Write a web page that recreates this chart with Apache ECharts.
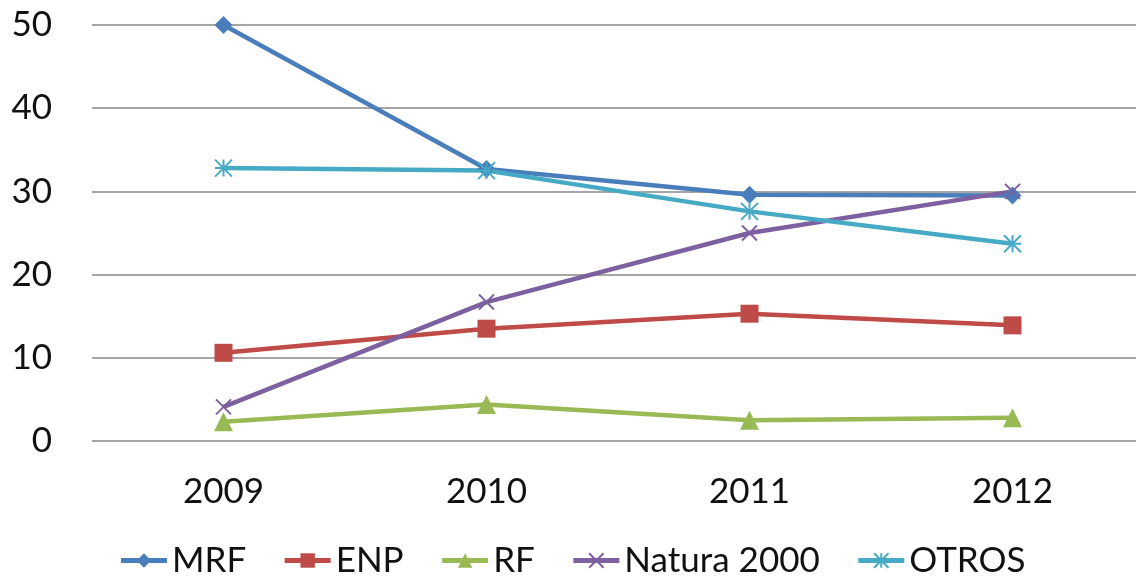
<!DOCTYPE html>
<html>
<head>
<meta charset="utf-8">
<script src="https://cdn.jsdelivr.net/npm/echarts@6/dist/echarts.min.js"></script>
<style>
    html, body { margin: 0; padding: 0; background: #fff; overflow: hidden; }
    #chart { width: 1144px; height: 585px; }
</style>
</head>
<body>
<div id="chart"></div>
<script>
const years = ['2009', '2010', '2011', '2012'];
const mrf = [50.0, 32.7, 29.6, 29.5];
const enp = [10.6, 13.5, 15.3, 13.9];
const rf = [2.3, 4.4, 2.5, 2.8];
const natura = [4.1, 16.7, 25.0, 30.0];
const otros = [32.8, 32.5, 27.6, 23.7];

const FONT = 'Lato';
const crossPath = 'path://M0,0L10,10M10,0L0,10';
const starPath = 'path://M0,0L10,10M10,0L0,10M5,0L5,10M0,5L10,5';

function lineSeries(name, data, color, symbol, size, stroked) {
    return {
        name: name,
        type: 'line',
        data: data,
        symbol: symbol,
        symbolSize: size,
        lineStyle: { color: color, width: 4.5 },
        itemStyle: stroked
            ? { color: 'rgba(0,0,0,0)', borderColor: color, borderWidth: 2 }
            : { color: color, borderWidth: 0 },
        emphasis: { disabled: true }
    };
}

// the plot area runs a few pixels past the right edge of the window
let chart = echarts.init(document.getElementById('chart'));
chart.setOption({
    animation: false,
    textStyle: { fontFamily: FONT },
    grid: { left: 92, right: 0, top: 25, bottom: 144, containLabel: false },
    legend: {
        bottom: 2,
        left: 'center',
        itemWidth: 46,
        itemHeight: 18,
        itemGap: 36,
        lineStyle: { width: 5 },
        textStyle: { fontSize: 35, color: '#111', fontFamily: FONT },
        data: ['MRF', 'ENP', 'RF', 'Natura 2000', 'OTROS']
    },
    xAxis: {
        type: 'category',
        data: years,
        boundaryGap: true,
        axisLine: { show: false },
        axisTick: { show: false },
        axisLabel: { fontSize: 35, color: '#111', margin: 33 }
    },
    yAxis: {
        type: 'value',
        min: 0,
        max: 50,
        interval: 10,
        axisLine: { show: false },
        axisTick: { show: false },
        axisLabel: { fontSize: 35, color: '#111', margin: 40 },
        splitLine: { lineStyle: { color: '#a6a6a6', width: 2 } }
    },
    series: [
        lineSeries('MRF', mrf, '#4a7ebb', 'diamond', 18, false),
        lineSeries('ENP', enp, '#be4b48', 'rect', 18, false),
        lineSeries('RF', rf, '#98b954', 'triangle', 19, false),
        lineSeries('Natura 2000', natura, '#7d60a0', crossPath, 15, true),
        lineSeries('OTROS', otros, '#46aac5', starPath, 17, true)
    ]
});
</script>
</body>
</html>
